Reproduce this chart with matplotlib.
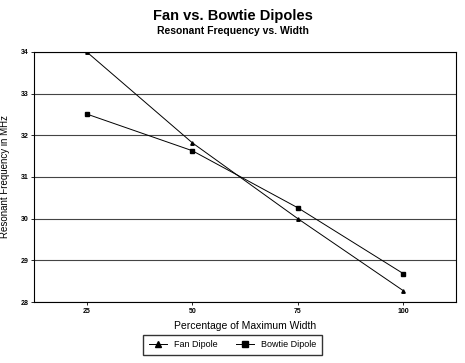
import matplotlib
matplotlib.use("Agg")
import matplotlib.pyplot as plt

plt.rcParams['font.family'] = ['Liberation Sans', 'DejaVu Sans']

# percentage of maximum width
widths = [25, 50, 75, 100]

# resonant frequency in MHz
fan_freq = [34.0, 31.82, 30.0, 28.27]
bowtie_freq = [32.51, 31.63, 30.26, 28.68]

yticks = [28, 29, 30, 31, 32, 33, 34]

fig = plt.figure(figsize=(4.65, 3.63), dpi=100)
ax = fig.add_axes([0.073, 0.168, 0.908, 0.689])

# horizontal grid lines
for y in yticks:
    ax.axhline(y, color="#444444", lw=0.8, zorder=1)

ax.plot(widths, fan_freq, color="black", lw=0.7, marker="^", ms=2.5,
        label="Fan Dipole", zorder=3)
ax.plot(widths, bowtie_freq, color="black", lw=0.7, marker="s", ms=2.5,
        label="Bowtie Dipole", zorder=3)

ax.set_xlim(12.5, 112.5)
ax.set_ylim(28, 34)
ax.set_xticks(widths)
ax.set_yticks(yticks)
ax.tick_params(labelsize=5, length=2, width=0.6, pad=2)
for lbl in ax.get_xticklabels() + ax.get_yticklabels():
    lbl.set_fontweight("bold")
for s in ax.spines.values():
    s.set_linewidth(0.8)

ax.set_xlabel("Percentage of Maximum Width", fontsize=7.5)
ax.set_ylabel("Resonant Frequency in MHz", fontsize=7)
ax.xaxis.set_label_coords(0.5, -0.075)
ax.yaxis.set_label_coords(-0.057, 0.5)

fig.text(0.5, 0.955, "Fan vs. Bowtie Dipoles", ha="center", va="center",
         fontsize=10.5, fontweight="bold")
fig.text(0.5, 0.915, "Resonant Frequency vs. Width", ha="center", va="center",
         fontsize=7.5, fontweight="bold")

ax.legend(loc="center", bbox_to_anchor=(0.5, 0.05), bbox_transform=fig.transFigure,
          ncol=2, fontsize=6.5, frameon=True, fancybox=False, edgecolor="black",
          markerscale=2.0, handlelength=2.0, columnspacing=2.0, borderpad=0.6)

fig.savefig("out.png", dpi=100)
